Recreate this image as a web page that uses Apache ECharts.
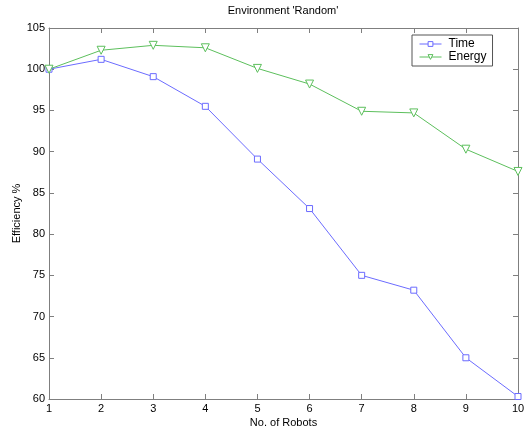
<!DOCTYPE html>
<html>
<head>
<meta charset="utf-8">
<script src="https://cdn.jsdelivr.net/npm/echarts@6/dist/echarts.min.js"></script>
<style>
  html, body { margin: 0; padding: 0; background: #fff; }
  #chart { width: 525px; height: 432px; }
</style>
</head>
<body>
<div id="chart"></div>
<script>
const robots = [1, 2, 3, 4, 5, 6, 7, 8, 9, 10];
const timeEff = [100, 101.2, 99.1, 95.5, 89.1, 83.1, 75.0, 73.2, 65.0, 60.3];
const energyEff = [100, 102.3, 102.9, 102.6, 100.1, 98.2, 94.9, 94.7, 90.3, 87.6];

const font = 'Liberation Sans, Arial, sans-serif';
const axisColor = '#7f7f7f';

const chart = echarts.init(document.getElementById('chart'), null, { renderer: 'canvas' });

const tickStyle = { show: true, inside: true, length: 5, lineStyle: { color: axisColor } };
const lineStyle = { show: true, lineStyle: { color: axisColor, width: 1 } };

chart.setOption({
  animation: false,
  title: {
    text: "Environment 'Random'",
    left: 283,
    top: 5,
    padding: 0,
    textAlign: 'center',
    textStyle: { fontFamily: font, fontSize: 11, fontWeight: 'normal', color: '#000' }
  },
  legend: {
    left: 412,
    top: 35,
    orient: 'vertical',
    padding: [3, 6, 3, 7],
    itemGap: 1,
    itemWidth: 22,
    itemHeight: 6,
    borderColor: '#555',
    borderWidth: 1,
    backgroundColor: '#fff',
    lineStyle: { width: 1 },
    itemStyle: { borderWidth: 1 },
    textStyle: { fontFamily: font, fontSize: 12, color: '#000', padding: [0, 0, 0, 2] },
    data: ['Time', 'Energy']
  },
  grid: { left: 49, right: 7, top: 28, bottom: 33, containLabel: false, outerBoundsMode: 'none' },
  xAxis: [{
    type: 'value',
    min: 1, max: 10, interval: 1,
    name: 'No. of Robots',
    nameLocation: 'middle',
    nameGap: 18,
    nameMoveOverlap: false,
    nameTextStyle: { fontFamily: font, fontSize: 11, color: '#000', verticalAlign: 'top' },
    axisLine: lineStyle,
    axisTick: tickStyle,
    axisLabel: { fontFamily: font, fontSize: 11, color: '#000', margin: 4 },
    splitLine: { show: false }
  }, {
    type: 'value', position: 'top',
    min: 1, max: 10, interval: 1,
    axisLine: lineStyle,
    axisTick: tickStyle,
    axisLabel: { show: false },
    splitLine: { show: false }
  }],
  yAxis: [{
    type: 'value',
    min: 60, max: 105, interval: 5,
    name: 'Efficiency %',
    nameLocation: 'middle',
    nameGap: 27,
    nameMoveOverlap: false,
    nameTextStyle: { fontFamily: font, fontSize: 11, color: '#000' },
    axisLine: lineStyle,
    axisTick: tickStyle,
    axisLabel: { fontFamily: font, fontSize: 11, color: '#000', margin: 4 },
    splitLine: { show: false }
  }, {
    type: 'value', position: 'right',
    min: 60, max: 105, interval: 5,
    axisLine: lineStyle,
    axisTick: tickStyle,
    axisLabel: { show: false },
    splitLine: { show: false }
  }],
  series: [{
    name: 'Time',
    type: 'line',
    data: robots.map((r, i) => [r, timeEff[i]]),
    symbol: 'rect',
    symbolSize: 6,
    showAllSymbol: true,
    color: '#6b6bff',
    lineStyle: { width: 1, color: '#6b6bff' },
    itemStyle: { color: '#fff', borderColor: '#6b6bff', borderWidth: 1 }
  }, {
    name: 'Energy',
    type: 'line',
    data: robots.map((r, i) => [r, energyEff[i]]),
    symbol: 'triangle',
    symbolRotate: 180,
    symbolSize: 8,
    showAllSymbol: true,
    color: '#5cbf5c',
    lineStyle: { width: 1, color: '#5cbf5c' },
    itemStyle: { color: '#fff', borderColor: '#5cbf5c', borderWidth: 1 }
  }]
});
</script>
</body>
</html>
